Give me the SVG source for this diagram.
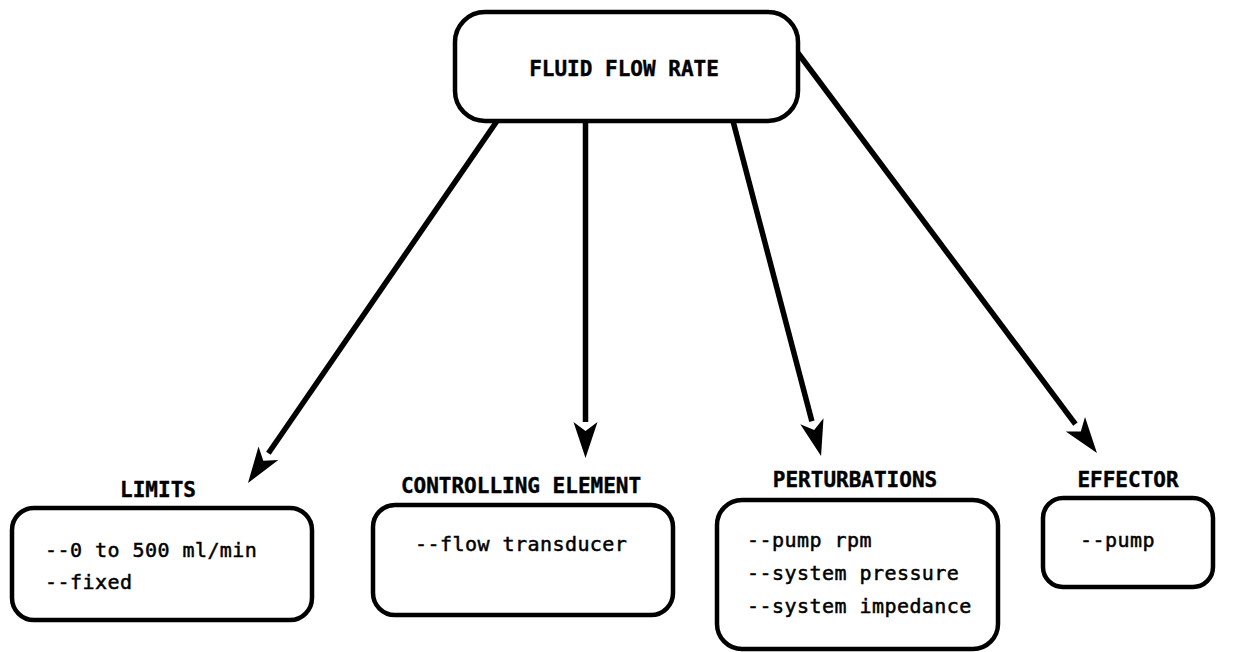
<svg xmlns="http://www.w3.org/2000/svg" width="1239" height="652" viewBox="0 0 1239 652">
  <defs>
    <style>
      .box { fill: #ffffff; stroke: #000000; stroke-width: 4.5; }
      .conn { stroke: #000000; stroke-width: 5.5; fill: none; }
      .title { font-family: "DejaVu Sans Mono", "Liberation Mono", monospace; font-weight: bold; font-size: 21px; letter-spacing: 0px; text-anchor: middle; fill: #000; stroke: #000; stroke-width: 0.4px; }
      .body { font-family: "DejaVu Sans Mono", "Liberation Mono", monospace; font-size: 20px; letter-spacing: 0.45px; fill: #000; stroke: #000; stroke-width: 0.5px; }
    </style>
    <marker id="arrow" markerUnits="userSpaceOnUse" viewBox="-2 -14 42 28" markerWidth="42" markerHeight="28" refX="0" refY="0" orient="auto" overflow="visible">
      <path d="M36,0 L0,-12 L9,0 L0,12 Z" fill="#000"/>
    </marker>
  </defs>
  <rect width="1239" height="652" fill="#ffffff"/>

  <g id="connectors">
    <line class="conn" x1="497" y1="121" x2="268.4" y2="453.3" marker-end="url(#arrow)"/>
    <line class="conn" x1="585.5" y1="121" x2="585.5" y2="422" marker-end="url(#arrow)"/>
    <line class="conn" x1="733" y1="121" x2="811.9" y2="421.2" marker-end="url(#arrow)"/>
    <line class="conn" x1="798" y1="53" x2="1075.4" y2="424.2" marker-end="url(#arrow)"/>
  </g>

  <g id="fluid-flow-rate">
    <rect class="box" x="455" y="12" width="343" height="109" rx="30" ry="30"/>
    <text class="title" x="624" y="76">FLUID FLOW RATE</text>
  </g>

  <g id="limits">
    <text class="title" x="158" y="497">LIMITS</text>
    <rect class="box" x="12" y="508" width="300" height="112" rx="22" ry="22"/>
    <text class="body" x="45" y="557">--0 to 500 ml/min</text>
    <text class="body" x="45" y="589">--fixed</text>
  </g>

  <g id="controlling-element">
    <text class="title" x="521" y="493">CONTROLLING ELEMENT</text>
    <rect class="box" x="373" y="505" width="300" height="110" rx="22" ry="22"/>
    <text class="body" x="415" y="551">--flow transducer</text>
  </g>

  <g id="perturbations">
    <text class="title" x="855" y="487">PERTURBATIONS</text>
    <rect class="box" x="717" y="500" width="281" height="149" rx="25" ry="25"/>
    <text class="body" x="747" y="547">--pump rpm</text>
    <text class="body" x="747" y="580">--system pressure</text>
    <text class="body" x="747" y="613">--system impedance</text>
  </g>

  <g id="effector">
    <text class="title" x="1128" y="487">EFFECTOR</text>
    <rect class="box" x="1043" y="498" width="170" height="89" rx="20" ry="20"/>
    <text class="body" x="1080" y="547">--pump</text>
  </g>
</svg>
